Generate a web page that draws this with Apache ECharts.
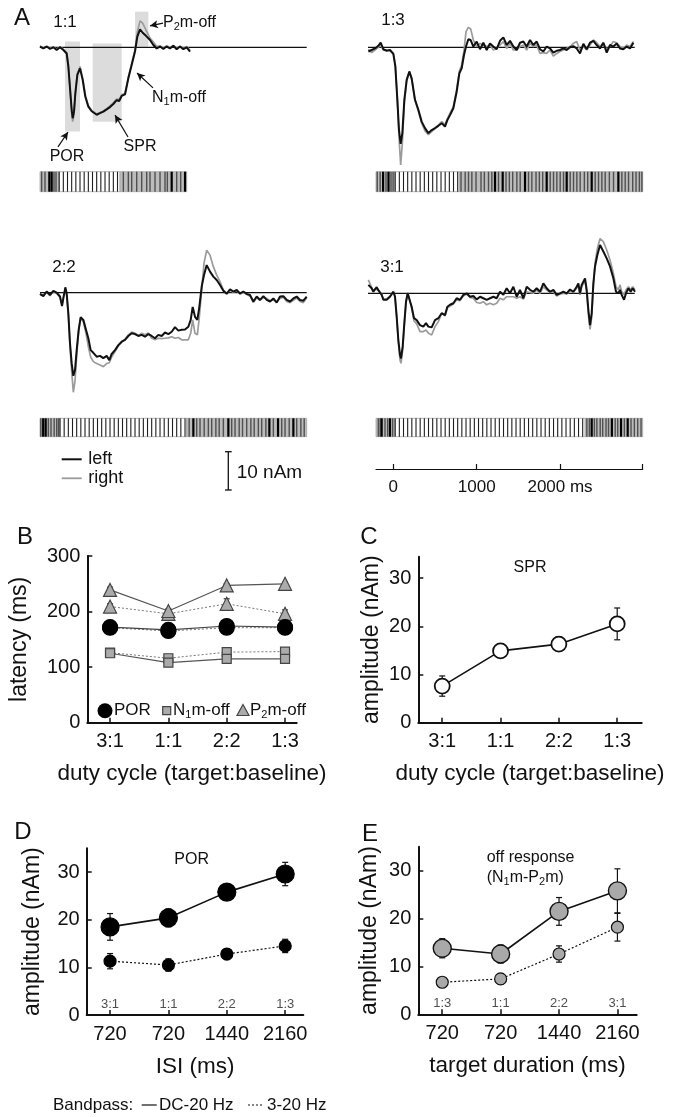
<!DOCTYPE html>
<html><head><meta charset="utf-8">
<script src="https://cdn.jsdelivr.net/npm/echarts@6/dist/echarts.min.js"></script>
<style>html,body{margin:0;padding:0;background:#fff}#c{width:680px;height:1117px}</style>
</head><body><div id="c"></div>
<script>
// ---------- Panel A waveforms (time in ms, amplitude in nAm) ----------
const T11=[-300,-260,-220,-180,-140,-100,-60,-20,20,40,60,80,92,108,124,148,180,212,244,280,320,380,420,460,500,540,580,620,650,680,720,760,800,840,868,900,932,972,1020,1060,1100,1140,1180,1220,1260,1300,1340,1380,1420,1460,1500];
const L11=[0.2,-0.3,0.2,-0.4,0.0,-0.7,0.0,-0.7,-1.6,-5.0,-10.6,-16.3,-18.5,-16.8,-12.0,-7.2,-5.5,-8.5,-12.9,-15.5,-16.7,-17.6,-17.2,-16.8,-16.2,-15.6,-14.8,-13.8,-14.0,-12.7,-12.3,-8.1,-4.6,-1.1,2.8,4.7,3.8,3.0,1.9,0.6,-0.3,0.2,-0.4,0.2,-0.3,0.4,-0.5,0.2,-0.5,0.0,-1.1];
const R11=[0.4,-0.2,0.3,-0.2,0.1,-0.5,0.2,-0.5,-1.4,-4.6,-10.8,-17.0,-19.4,-17.5,-12.2,-6.9,-5.0,-8.0,-12.5,-15.2,-16.5,-17.4,-17.0,-16.6,-16.0,-15.3,-14.5,-13.5,-13.6,-12.4,-12.0,-7.8,-4.2,-0.6,4.0,6.9,6.3,4.5,2.4,1.4,0.2,0.4,-0.2,0.4,-0.1,0.5,-0.3,0.3,-0.3,0.2,-0.8];

const T13=[-296,-256,-216,-176,-148,-116,-76,-36,4,28,52,72,92,112,136,164,196,224,264,304,344,384,424,464,504,544,584,624,652,684,724,764,796,824,852,876,904,932,964,1004,1044,1084,1124,1164,1204,1244,1284,1324,1364,1404,1444,1484,1524,1564,1604,1644,1684,1724,1764,1804,1844,1884,1924,1964,2004,2044,2084,2124,2164,2204,2244,2284,2324,2364,2404,2444,2484,2524,2564,2604,2644,2684,2724,2764,2804,2844,2884];
const L13=[-1.1,-0.7,-0.3,0.4,1.2,-0.5,-0.9,-0.7,-1.7,-5.0,-13.7,-21.6,-25.2,-22.4,-13.7,-8.5,-6.3,-8.1,-13.7,-16.3,-19.4,-21.1,-22.4,-21.6,-21.1,-20.5,-19.8,-20.7,-19.0,-17.7,-15.9,-11.6,-6.8,-5.5,-2.0,0.2,2.1,1.9,0.2,1.5,-0.5,1.2,-0.7,1.0,0.2,-0.5,1.7,2.6,0.6,1.7,0.2,-0.7,1.2,1.5,0.2,1.9,0.6,1.5,-0.5,-1.1,0.2,-0.3,-1.4,-0.9,-0.7,-0.3,-0.7,0.0,0.3,-0.3,-1.6,0.9,-0.5,1.2,1.7,0.6,-0.3,1.2,-1.4,0.6,0.2,1.0,-0.3,-0.5,0.2,-0.3,1.2];
const R13=[-0.5,-1.4,-0.7,0.0,0.6,-0.7,-0.7,-0.9,-1.6,-4.6,-13.5,-23.5,-30.7,-25.0,-14.5,-8.8,-6.5,-8.3,-13.9,-16.6,-19.8,-21.8,-22.8,-22.0,-21.2,-20.3,-19.4,-20.2,-18.6,-17.2,-15.5,-11.0,-6.2,-4.6,-0.8,4.1,5.2,4.8,1.9,0.2,1.0,0.6,0.2,0.6,-0.7,-0.3,0.6,1.5,-0.3,1.0,-0.7,-0.7,0.2,0.6,-0.7,1.0,0.2,0.6,-1.6,-1.4,-1.6,-0.7,-2.3,-1.6,-1.1,-0.7,-0.3,0.2,1.0,1.5,-0.7,0.2,-0.7,0.6,1.9,1.2,0.2,1.2,-0.7,0.3,1.5,1.2,0.2,-0.3,0.6,0.2,1.5];

const T22=[-300,-260,-220,-180,-140,-100,-60,-36,-20,4,20,40,60,80,100,120,140,164,188,220,252,280,308,340,380,420,460,500,532,560,600,640,680,720,760,800,840,880,920,960,1000,1040,1080,1120,1160,1200,1240,1280,1320,1360,1400,1440,1480,1508,1532,1560,1588,1612,1640,1668,1700,1740,1780,1820,1860,1900,1940,1980,2020,2060,2100,2140,2180,2220,2260,2300,2340,2380,2420,2460,2500,2540,2580,2620,2660,2700,2740,2780,2820,2860,2900];
const L22=[-0.3,-0.9,0.3,-0.6,0.5,0,-1.0,-3.5,-1.5,1.4,-0.2,-5.4,-13.2,-18.4,-21.7,-20.2,-15.0,-9.7,-6.4,-7.1,-9.7,-11.9,-15.0,-15.7,-16.7,-16.5,-17.1,-16.5,-17.6,-16.0,-15.0,-13.7,-12.8,-12.3,-11.3,-10.6,-10.8,-11.3,-11.0,-11.5,-10.8,-11.3,-11.9,-11.0,-11.3,-10.4,-10.8,-10.2,-9.0,-9.9,-9.7,-9.6,-8.9,-7.1,-3.7,-6.3,-7.1,-3.7,1.6,4.6,7.2,5.5,4.2,3.3,2.0,0.5,-0.3,0.9,0.3,0.7,-0.2,0.3,-0.3,-0.6,-2.3,-1.0,-1.9,-0.9,-1.9,-2.3,-1.5,-2.6,-1.0,-0.9,-1.9,-2.3,-1.5,-1.0,-1.9,-2.1,-1.0];
const R22=[-0.5,-0.6,0.1,-0.8,0.3,-0.2,-1.2,-3.2,-1.2,1.0,-0.5,-5.8,-14.0,-20.5,-26.0,-23.0,-16.5,-10.0,-6.6,-7.6,-10.6,-14.1,-16.8,-18.0,-18.5,-18.9,-19.3,-18.5,-18.3,-16.8,-15.4,-13.9,-12.9,-12.2,-11.0,-10.3,-10.6,-11.2,-10.6,-11.0,-10.5,-11.9,-12.3,-11.9,-12.0,-11.9,-11.8,-11.5,-11.9,-11.7,-12.3,-12.3,-12.3,-10.6,-7.1,-10.6,-11.0,-6.3,0.7,7.7,11.1,9.8,6.8,4.6,2.9,0.7,-0.2,0.6,0.1,0.6,-0.4,0.1,-0.5,-0.9,-2.6,-1.3,-2.0,-1.3,-1.5,-2.1,-1.9,-2.4,-1.5,-1.2,-2.3,-2.6,-2.0,-1.4,-2.3,-2.6,-1.3];

const T31=[-296,-276,-256,-236,-216,-196,-164,-136,-116,-96,-76,-36,-16,4,24,44,64,84,96,116,136,156,176,196,224,252,284,324,364,396,424,464,504,544,584,624,652,684,724,764,804,844,884,924,964,1004,1044,1084,1124,1164,1204,1244,1284,1324,1364,1404,1444,1484,1524,1564,1604,1644,1684,1724,1764,1804,1844,1884,1924,1964,2004,2044,2084,2124,2164,2204,2224,2244,2264,2304,2324,2344,2364,2384,2404,2424,2452,2484,2524,2564,2604,2644,2676,2704,2724,2744,2772,2796,2824,2852,2876,2904];
const L31=[2.2,2.6,1.3,0.4,1.0,1.6,0.4,-0.4,-1.7,-1.3,-1.7,-0.9,-0.4,0.4,-0.9,-6.1,-12.2,-16.1,-17.0,-13.9,-7.8,-2.2,0,-0.4,-3.5,-6.5,-7.0,-8.3,-8.7,-7.8,-8.7,-8.9,-7.0,-6.5,-5.2,-5.7,-3.5,-3.0,-2.6,-1.3,-1.7,-0.4,0,-0.9,-0.7,-1.6,-0.9,-1.3,-1.7,-1.3,-0.9,-1.3,0.4,-0.4,1.3,0,1.7,-0.9,0.9,-1.3,1.7,0.9,0.4,1.3,0.4,2.6,1.3,0.4,0.9,-0.4,0,0.4,0,1.0,0.4,1.7,2.6,0,2.2,3.9,0.9,-4.3,-8.3,-5.2,2.6,7.0,10.0,12.6,10.9,9.1,7.0,3.9,0.4,0,0.9,-0.4,-1.7,0,1.3,0.4,1.3,0.4];
const R31=[3.5,3.0,1.5,0.6,1.2,1.4,0.6,-0.2,-1.5,-1.0,-1.5,-0.7,-0.2,0.5,-0.7,-6.0,-12.5,-17.4,-18.3,-14.8,-8.2,-2.4,0.2,-0.2,-3.9,-7.2,-8.0,-10.0,-10.0,-9.6,-10.4,-10.9,-8.7,-7.4,-5.2,-5.9,-3.9,-3.3,-2.8,-1.7,-1.9,-0.7,-0.2,-1.1,-1.3,-2.4,-2.6,-2.2,-3.0,-2.6,-3.0,-2.6,-1.3,-1.7,-0.9,-0.9,-0.9,-1.3,-0.9,-1.5,0.4,0.2,0.0,0.9,0.0,1.7,0.9,0.2,0.4,-0.7,-0.2,0.0,-0.2,0.6,0.2,1.3,2.0,-0.4,1.7,3.3,0.2,-5.5,-9.4,-6.3,2.0,7.8,11.7,14.3,13.5,11.3,8.7,5.2,1.7,0.9,2.2,0.4,-0.4,0.9,1.7,0.9,1.7,0.9];

// analysis windows in 1:1 panel: [t0, t1, top nAm, bottom nAm]
const WIN11=[[0,180,1.5,-22],[332,680,1.0,-19.4],[840,1000,9.3,0.2]];
// annotation arrows in 1:1 panel: [tFrom, yFrom, tTo, yTo]
const ARROWS11=[[-84,-26,36,-22.1],[756,-23.4,600,-17.7],[1056,-10.6,864,-6.7],[1176,6.3,1020,5.6]];

// ---------- stimulus sequences (ms) ----------
const SEG11=[[-300,-70,1],[-70,660,0],[660,1460,1]];
const REG11=[-70,-20,30,80,130,180,230,280,330,380,430,480,530,580,630];
const RND11=[-280,-240,-188,-160,-132,-108,700,760,800,860,920,980,1020,1080,1140,1200,1228,1280,1340,1388,1440];
const DRK11=[-188,-160,1280,1440];

const SEG13=[[-300,-70,1],[-70,700,0],[700,2900,1]];
const REG13=[-70,-20,30,80,130,180,230,280,330,380,430,480,530,580,630,680];
const RND13=[-285,-250,-215,-180,-150,-120,-95,720,770,810,850,900,960,1000,1050,1090,1128,1170,1220,1260,1300,1340,1390,1430,1488,1530,1570,1620,1660,1700,1748,1790,1830,1870,1910,1950,1988,2030,2070,2110,2150,2200,2240,2288,2330,2370,2410,2450,2500,2550,2608,2650,2690,2730,2780,2820,2860,2890];
const DRK13=[-215,-150,1128,1220,1488,1748,1988,2288,2608];

const SEG22=[[-300,-60,1],[-60,1460,0],[1460,2900,1]];
const REG22=[-60,-10,40,90,140,190,240,290,340,390,440,490,540,590,640,690,740,790,840,890,940,990,1040,1090,1140,1190,1240,1290,1340,1390,1440];
const RND22=[-290,-262,-232,-200,-168,-130,-100,-78,1490,1540,1580,1620,1670,1720,1760,1810,1850,1900,1960,2000,2040,2090,2130,2180,2230,2270,2320,2360,2410,2452,2500,2556,2600,2640,2690,2740,2780,2830,2870];
const DRK22=[-262,-232,1540,1960,2452,2556,2740];

const SEG31=[[-300,-70,1],[-70,2210,0],[2210,2900,1]];
const REG31=[-70,-20,30,80,130,180,230,280,330,380,430,480,530,580,630,680,730,780,830,880,930,980,1030,1080,1130,1180,1230,1280,1330,1380,1430,1480,1530,1580,1630,1680,1730,1780,1830,1880,1930,1980,2030,2080,2130,2180];
const RND31=[-272,-250,-232,-192,-160,-132,-100,2230,2260,2288,2320,2350,2390,2420,2460,2490,2530,2570,2600,2640,2680,2720,2760,2800,2840,2880];
const DRK31=[-232,-132,2288,2530,2640,2720];

const TIME_TICKS=[0,1000,2000];

// ---------- Panel B: latency (ms) ----------
const dutyCats=['3:1','1:1','2:2','1:3'];
const porDC=[172,167,174,172], porDCerr=[3,3,3,3];
const porBP=[171,165,171,171], porBPerr=[3,3,3,3];
const n1DC=[125,108,115,115], n1DCerr=[3,3,3,3];
const n1BP=[126,116,127,128], n1BPerr=[3,3,3,3];
const p2DC=[239,201,247,250], p2DCerr=[5,4,3,3];
const p2BP=[209,196,214,196], p2BPerr=[5,3,9,7];

// ---------- Panel C: SPR amplitude ----------
const spr=[7.6,14.9,16.3,20.5], sprErr=[2.1,1.4,1.5,3.3];

// ---------- Panel D: POR amplitude vs ISI ----------
const isiTicks=['720','720','1440','2160'];
const dInner=['3:1','1:1','2:2','1:3'];
const porAmpDC=[18.5,20.4,25.8,29.6], porAmpDCerr=[2.8,1.9,1.5,2.45];
const porAmpBP=[11.3,10.5,12.8,14.5], porAmpBPerr=[1.6,1.3,1.1,1.4];

// ---------- Panel E: off response amplitude vs target duration ----------
const durTicks=['720','720','1440','2160'];
const eInner=['1:3','1:1','2:2','3:1'];
const offDC=[13.8,12.6,21.5,25.8], offDCerr=[2.0,1.9,2.9,4.6];
const offBP=[6.7,7.4,12.6,18.2], offBPerr=[0.5,1.1,1.7,2.9];

// =====================================================================
const FONT="'Liberation Sans', Arial, Helvetica, sans-serif";
const INK='#111';
const GRAYLINE='#9b9b9b';
const pair=(T,V)=>T.map((t,i)=>[t,V[i]]);
const idx=(V)=>V.map((v,i)=>[i,v]);
const idxErr=(V,E)=>V.map((v,i)=>[i,v,E[i]]);

const grids=[
 {left:40,top:9,width:266.7,height:160.9},
 {left:368,top:9,width:266.7,height:160.9},
 {left:40,top:231.4,width:266.7,height:176.2},
 {left:368,top:232,width:266.7,height:176.2},
 {left:40,top:171.7,width:266.7,height:20},
 {left:376,top:171.7,width:266.7,height:20},
 {left:40,top:418.3,width:266.7,height:18.4},
 {left:376,top:418.3,width:266.7,height:18.4},
 {left:376,top:440,width:266.7,height:29},
 {left:87.3,top:556,width:209.4,height:166.7},
 {left:418.3,top:556.7,width:223.4,height:166},
 {left:86.7,top:848.3,width:216.6,height:166.7},
 {left:418.3,top:846.8,width:218.4,height:167.5}
].map(g=>Object.assign(g,{outerBoundsMode:'none',containLabel:false}));

const xAxes=[], yAxes=[], series=[];
function hidX(g,min,max){xAxes.push({gridIndex:g,type:'value',min,max,show:false});return xAxes.length-1;}
function hidY(g,min,max){yAxes.push({gridIndex:g,type:'value',min,max,show:false});return yAxes.length-1;}

// ---- waveform panels ----
const waves=[
 {g:0,T:T11,L:L11,R:R11,ymin:-32,ymax:10,win:WIN11,arrows:ARROWS11},
 {g:1,T:T13,L:L13,R:R13,ymin:-32,ymax:10},
 {g:2,T:T22,L:L22,R:R22,ymin:-30,ymax:16},
 {g:3,T:T31,L:L31,R:R31,ymin:-30,ymax:16}
];
waves.forEach(w=>{
  const xi=hidX(w.g,-300,2900), yi=hidY(w.g,w.ymin,w.ymax);
  if(w.win){
    series.push({type:'custom',xAxisIndex:xi,yAxisIndex:yi,z:1,silent:true,clip:false,
      data:w.win,renderItem:(p,api)=>{
        const a=api.coord([api.value(0),api.value(2)]), b=api.coord([api.value(1),api.value(3)]);
        return {type:'rect',shape:{x:a[0],y:a[1],width:b[0]-a[0],height:b[1]-a[1]},style:{fill:'#dcdcdc'}};
      }});
  }
  series.push({type:'line',name:'baseline',xAxisIndex:xi,yAxisIndex:yi,data:[[-300,0],[2900,0]],symbol:'none',
    lineStyle:{color:INK,width:1.2},z:2,silent:true});
  series.push({type:'line',name:'right',xAxisIndex:xi,yAxisIndex:yi,data:pair(w.T,w.R),symbol:'none',
    lineStyle:{color:GRAYLINE,width:1.7},z:3,clip:false,silent:true});
  series.push({type:'line',name:'left',xAxisIndex:xi,yAxisIndex:yi,data:pair(w.T,w.L),symbol:'none',
    lineStyle:{color:INK,width:2},z:4,clip:false,silent:true});
  if(w.arrows){
    series.push({type:'line',xAxisIndex:xi,yAxisIndex:yi,data:[[-300,0]],symbol:'none',lineStyle:{width:0},z:5,silent:true,
      markLine:{silent:true,symbol:['none','arrow'],symbolSize:[6,8],label:{show:false},
        lineStyle:{color:INK,width:1.2,type:'solid'},
        data:w.arrows.map(a=>[{coord:[a[0],a[1]]},{coord:[a[2],a[3]]}])}});
  }
});

// ---- stimulus bars ----
const bars=[
 {g:4,S:SEG11,R:REG11,N:RND11,D:DRK11},
 {g:5,S:SEG13,R:REG13,N:RND13,D:DRK13},
 {g:6,S:SEG22,R:REG22,N:RND22,D:DRK22},
 {g:7,S:SEG31,R:REG31,N:RND31,D:DRK31}
];
bars.forEach(b=>{
  const xi=hidX(b.g,-300,2900), yi=hidY(b.g,0,1);
  series.push({type:'custom',xAxisIndex:xi,yAxisIndex:yi,z:1,silent:true,data:b.S,
    renderItem:(p,api)=>{
      const a=api.coord([api.value(0),1]), c=api.coord([api.value(1),0]);
      return {type:'rect',shape:{x:a[0],y:a[1],width:c[0]-a[0],height:c[1]-a[1]},
        style:{fill:api.value(2)===0?'#ffffff':'#bcbcbc',stroke:'#a5a5a5',lineWidth:0.8}};
    }});
  const pts=b.R.map(t=>[t,0]).concat(b.N.map(t=>[t,b.D.includes(t)?2:1]));
  series.push({type:'custom',xAxisIndex:xi,yAxisIndex:yi,z:2,silent:true,data:pts,
    renderItem:(p,api)=>{
      const t=api.value(0), k=api.value(1);
      const a=api.coord([t,1]), c=api.coord([t,0]);
      return {type:'line',shape:{x1:a[0],y1:a[1],x2:c[0],y2:c[1]},
        style:{stroke:k===0?'#1e1e1e':(k===2?'#000':'#505050'),lineWidth:k===2?2.2:(k===1?1.4:1.1)}};
    }});
});

// ---- time axis ----
xAxes.push({gridIndex:8,type:'value',min:-208,max:2992,position:'bottom',
  axisLine:{show:true,onZero:false,lineStyle:{color:INK,width:1.2}},
  axisTick:{show:true,inside:true,length:5,customValues:TIME_TICKS.concat([2992]),lineStyle:{color:INK,width:1.2}},
  axisLabel:{show:true,customValues:TIME_TICKS,formatter:v=>v===2000?'2000 ms':String(v),fontSize:17,color:INK,margin:10,fontFamily:FONT},
  splitLine:{show:false}});
const txi=xAxes.length-1, tyi=hidY(8,0,1);
series.push({type:'line',xAxisIndex:txi,yAxisIndex:tyi,data:[],silent:true});

// ---- panels B-E ----
function statX(g,min,max,labels,name){
  xAxes.push({gridIndex:g,type:'value',min,max,
    axisLine:{show:true,onZero:false,lineStyle:{color:INK,width:2}},
    axisTick:{show:true,inside:true,length:5,customValues:[0,1,2,3],lineStyle:{color:INK,width:1.5}},
    axisLabel:{customValues:[0,1,2,3],formatter:v=>labels[Math.round(v)],fontSize:20,color:INK,margin:9,fontFamily:FONT},
    splitLine:{show:false},
    name,nameLocation:'middle',nameGap:40,nameTextStyle:{fontSize:22.5,color:INK,fontFamily:FONT}});
  return xAxes.length-1;
}
function statY(g,max,ticks,name,gap){
  yAxes.push({gridIndex:g,type:'value',min:0,max,
    axisLine:{show:true,onZero:false,lineStyle:{color:INK,width:2}},
    axisTick:{show:true,inside:true,length:5,customValues:ticks,lineStyle:{color:INK,width:1.5}},
    axisLabel:{customValues:ticks,fontSize:20,color:INK,margin:7,fontFamily:FONT},
    splitLine:{show:false},
    name,nameLocation:'middle',nameRotate:90,nameGap:gap,nameTextStyle:{fontSize:23,color:INK,fontFamily:FONT}});
  return yAxes.length-1;
}
function errSeries(xi,yi,data,color){
  return {type:'custom',xAxisIndex:xi,yAxisIndex:yi,z:3,silent:true,clip:false,data,
    encode:{x:0,y:1},
    renderItem:(p,api)=>{
      const x=api.value(0),y=api.value(1),e=api.value(2);
      const hi=api.coord([x,y+e]), lo=api.coord([x,y-e]); const w=3;
      const st={stroke:color,lineWidth:1.2};
      return {type:'group',children:[
        {type:'line',shape:{x1:hi[0],y1:hi[1],x2:lo[0],y2:lo[1]},style:st},
        {type:'line',shape:{x1:hi[0]-w,y1:hi[1],x2:hi[0]+w,y2:hi[1]},style:st},
        {type:'line',shape:{x1:lo[0]-w,y1:lo[1],x2:lo[0]+w,y2:lo[1]},style:st}]};
    }};
}
function ptSeries(xi,yi,vals,o){
  return {type:'line',name:o.name,xAxisIndex:xi,yAxisIndex:yi,data:idx(vals),clip:false,silent:true,z:o.z||4,
    symbol:o.symbol,symbolSize:o.size,showSymbol:true,
    itemStyle:{color:o.fill,borderColor:o.border||INK,borderWidth:o.bw==null?1.2:o.bw,opacity:1},
    lineStyle:{color:o.line,width:o.lw||1.2,type:o.dotted?[2,2]:'solid'}};
}

// B
{
  const xi=statX(9,-0.39,3.2,dutyCats,'duty cycle (target:baseline)');
  const yi=statY(9,300,[0,100,200,300],'latency (ms)',56);
  series.push(errSeries(xi,yi,idxErr(p2BP,p2BPerr),'#333'));
  series.push(errSeries(xi,yi,idxErr(p2DC,p2DCerr),'#333'));
  series.push(errSeries(xi,yi,idxErr(n1BP,n1BPerr),'#333'));
  series.push(errSeries(xi,yi,idxErr(porBP,porBPerr),'#333'));
  series.push(ptSeries(xi,yi,p2BP,{name:'P2m-off 3-20',symbol:'triangle',size:13,fill:'#ababab',border:'#444',line:'#777',dotted:true,lw:1}));
  series.push(ptSeries(xi,yi,p2DC,{name:'P2m-off DC-20',symbol:'triangle',size:13,fill:'#ababab',border:'#444',line:'#555',lw:1.2}));
  series.push(ptSeries(xi,yi,n1BP,{name:'N1m-off 3-20',symbol:'rect',size:9,fill:'#ababab',border:'#444',line:'#777',dotted:true,lw:1}));
  series.push(ptSeries(xi,yi,n1DC,{name:'N1m-off DC-20',symbol:'rect',size:9,fill:'#ababab',border:'#444',line:'#555',lw:1.2}));
  series.push(ptSeries(xi,yi,porBP,{name:'POR 3-20',symbol:'circle',size:15,fill:'#000',border:'#000',line:'#777',dotted:true,lw:1}));
  series.push(ptSeries(xi,yi,porDC,{name:'POR DC-20',symbol:'circle',size:15,fill:'#000',border:'#000',line:'#444',lw:1.2,z:5}));
}
// C
{
  const xi=statX(10,-0.41,3.42,dutyCats,'duty cycle (target:baseline)');
  const yi=statY(10,34.44,[0,10,20,30],'amplitude (nAm)',35);
  series.push(errSeries(xi,yi,idxErr(spr,sprErr),INK));
  series.push(ptSeries(xi,yi,spr,{name:'SPR',symbol:'circle',size:15,fill:'#fff',border:INK,bw:1.8,line:INK,lw:1.6}));
}
// D
{
  const xi=statX(11,-0.40,3.31,isiTicks,'ISI (ms)');
  const yi=statY(11,35,[0,10,20,30],'amplitude (nAm)',43);
  series.push(errSeries(xi,yi,idxErr(porAmpBP,porAmpBPerr),INK));
  series.push(errSeries(xi,yi,idxErr(porAmpDC,porAmpDCerr),INK));
  series.push(ptSeries(xi,yi,porAmpBP,{name:'3-20 Hz',symbol:'circle',size:12,fill:'#000',border:'#000',line:INK,dotted:true,lw:1.2}));
  series.push(ptSeries(xi,yi,porAmpDC,{name:'DC-20 Hz',symbol:'circle',size:18,fill:'#000',border:'#000',line:INK,lw:1.6}));
  series.push({type:'scatter',xAxisIndex:xi,yAxisIndex:yi,data:dInner.map((s,i)=>[i,2.2]),symbolSize:1,silent:true,
    itemStyle:{color:'transparent'},label:{show:true,position:'inside',formatter:p=>dInner[p.dataIndex],fontSize:13,color:'#222',fontFamily:FONT}});
}
// E
{
  const xi=statX(12,-0.41,3.33,durTicks,'target duration (ms)');
  const yi=statY(12,35,[0,10,20,30],'amplitude (nAm)',37);
  series.push(errSeries(xi,yi,idxErr(offBP,offBPerr),INK));
  series.push(errSeries(xi,yi,idxErr(offDC,offDCerr),INK));
  series.push(ptSeries(xi,yi,offBP,{name:'3-20 Hz',symbol:'circle',size:12,fill:'#a9a9a9',border:INK,bw:1.2,line:INK,dotted:true,lw:1.2}));
  series.push(ptSeries(xi,yi,offDC,{name:'DC-20 Hz',symbol:'circle',size:18,fill:'#a9a9a9',border:INK,bw:1.4,line:INK,lw:1.6}));
  series.push({type:'scatter',xAxisIndex:xi,yAxisIndex:yi,data:eInner.map((s,i)=>[i,2.2]),symbolSize:1,silent:true,
    itemStyle:{color:'transparent'},label:{show:true,position:'inside',formatter:p=>eInner[p.dataIndex],fontSize:13,color:'#222',fontFamily:FONT}});
}

// ---- annotation graphics ----
const SUB={s:{fontSize:11,fontFamily:FONT,fill:INK,padding:[8,0,0,0]}};
function txt(x,y,text,size,align,extra){
  return Object.assign({type:'text',silent:true,style:Object.assign({x,y,text,fontSize:size,fontFamily:FONT,fill:INK,
    align:align||'center',verticalAlign:'middle'},extra||{})});
}
function ln(x1,y1,x2,y2,color,w,dash){
  return {type:'line',silent:true,shape:{x1,y1,x2,y2},style:{stroke:color,lineWidth:w,lineDash:dash||null}};
}
const graphic=[
  txt(22,18,'A',24), txt(25,537,'B',24), txt(369,537,'C',24), txt(23,832,'D',24), txt(370,834,'E',24),
  txt(65,22,'1:1',17), txt(393,20,'1:3',17), txt(64,267,'2:2',17), txt(392,267,'3:1',17),
  txt(67,157,'POR',16), txt(140,147,'SPR',16),
  txt(152,98,'N{s|1}m-off',16,'left',{rich:SUB}),
  txt(163,23,'P{s|2}m-off',16,'left',{rich:SUB}),
  // left/right legend
  ln(61.7,459.3,81.7,459.3,INK,2), txt(88.3,459.3,'left',18,'left'),
  ln(61.7,478.3,81.7,478.3,GRAYLINE,1.8), txt(88.3,478.3,'right',18,'left'),
  // scale bar
  ln(228.3,451.7,228.3,490,INK,1.3), ln(225,451.7,231.7,451.7,INK,1.3), ln(225,490,231.7,490,INK,1.3),
  txt(236.7,472.7,'10 nAm',19,'left'),
  // B legend
  {type:'circle',silent:true,shape:{cx:105,cy:710.7,r:7.5},style:{fill:'#000'}},
  txt(114,710.7,'POR',17,'left'),
  {type:'rect',silent:true,shape:{x:162.7,y:706.7,width:8,height:8},style:{fill:'#ababab',stroke:'#444',lineWidth:1.2}},
  txt(173,710.7,'N{s|1}m-off',17,'left',{rich:SUB}),
  {type:'polygon',silent:true,shape:{points:[[243,704.5],[249,715.5],[237,715.5]]},style:{fill:'#ababab',stroke:'#444',lineWidth:1.2}},
  txt(250,710.7,'P{s|2}m-off',17,'left',{rich:SUB}),
  // inner titles
  txt(530,568,'SPR',16), txt(191.7,860,'POR',16),
  txt(486.7,858,'off response',16,'left'),
  txt(486.7,878,'(N{s|1}m-P{s|2}m)',16,'left',{rich:SUB}),
  // bandpass legend
  txt(53,1105,'Bandpass:',17,'left'),
  ln(141.7,1105,156.7,1105,INK,1.2), txt(159,1105,'DC-20 Hz',17,'left'),
  ln(248,1105,263,1105,INK,1.2,[2,2]), txt(267,1105,'3-20 Hz',17,'left')
];

const chart=echarts.init(document.getElementById('c'),null,{renderer:'canvas',width:680,height:1117});
chart.setOption({
  animation:false,
  backgroundColor:'#fff',
  textStyle:{fontFamily:FONT,color:INK},
  grid:grids, xAxis:xAxes, yAxis:yAxes, series, graphic
});
</script></body></html>
